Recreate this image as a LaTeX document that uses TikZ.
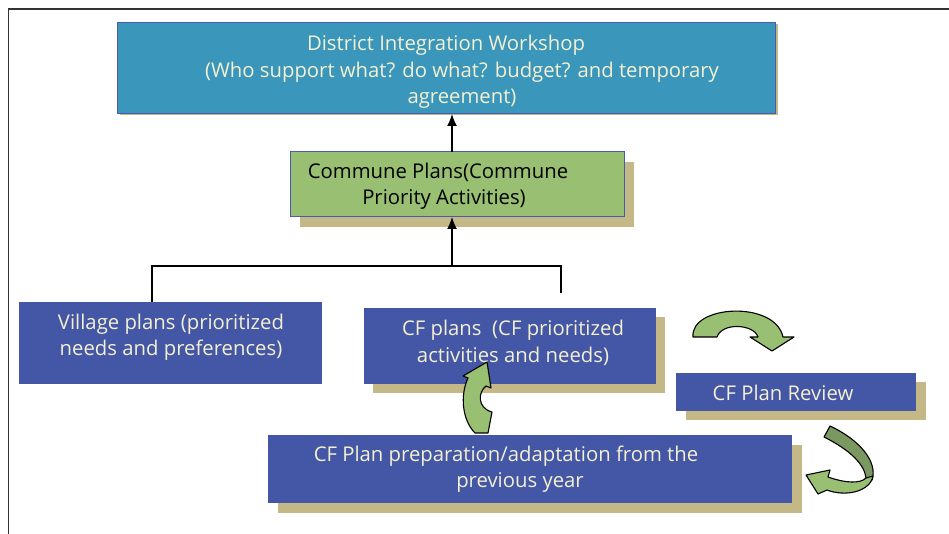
\documentclass[tikz,border=0pt]{standalone}
\usepackage{fontspec}
\setmainfont{Open Sans}
\usetikzlibrary{arrows.meta}

\definecolor{tealbox}{HTML}{3A96BB}
\definecolor{bluebox}{HTML}{4456A6}
\definecolor{edgeblue}{HTML}{4A5AAE}
\definecolor{tanshadow}{HTML}{C4B886}
\definecolor{leaf}{HTML}{98BF72}
\definecolor{darkleaf}{HTML}{7A9860}
\definecolor{cream}{HTML}{F4F0D2}

\tikzset{
  panel/.style={rectangle, anchor=north west, inner sep=0pt, outer sep=0pt},
  lbl/.style={align=center, inner sep=0pt, font=\fontsize{20.3}{26.5}\selectfont, text=cream},
  conn/.style={draw=black, line width=1.3pt},
  arr/.style={conn, -{Latex[length=12pt,width=10pt]}},
  blockarrow/.style={draw=black, line width=1.1pt, line join=round}
}

\begin{document}
\begin{tikzpicture}[x=1pt, y=-1pt]
\useasboundingbox (0,0) rectangle (949,534);
\fill[white] (0,0) rectangle (949,534);

% outer frame (left and top edges only)
\draw[line width=1.6pt, draw=black!80] (8.5,534) -- (8.5,9) -- (949,9);

% shadows behind the boxes
\fill[tanshadow] (120,24) rectangle (778,115);
\fill[tanshadow] (300,162) rectangle (634,227);
\fill[tanshadow] (373,317) rectangle (665,393);
\fill[tanshadow] (686,382) rectangle (926,420);
\fill[tanshadow] (278,445) rectangle (802,513);

% boxes
\node[panel, fill=tealbox, draw=edgeblue, line width=1pt, minimum width=658pt, minimum height=91pt] (dist) at (117,23) {};
\node[panel, fill=leaf, draw=edgeblue, line width=1pt, minimum width=334pt, minimum height=65pt] (comm) at (290,152) {};
\node[panel, fill=bluebox, minimum width=303pt, minimum height=82pt] (vil) at (19,302) {};
\node[panel, fill=bluebox, minimum width=292pt, minimum height=76pt] (cfp) at (364,308) {};
\node[panel, fill=bluebox, minimum width=240pt, minimum height=38pt] (rev) at (676,373) {};
\node[panel, fill=bluebox, minimum width=524pt, minimum height=68pt] (prep) at (268,435) {};

% labels
\node[lbl] (distT) at (446,72) {District Integration Workshop\\\hspace*{32pt}(Who support what? do what? budget? and temporary\\\hspace*{32pt}agreement)};
\node[lbl, text=black] (commT) at (438,186) {Commune Plans(Commune\\\hspace*{12pt}Priority Activities)};
\node[lbl] (vilT) at (171,337) {Village plans (prioritized\\needs and preferences)};
\node[lbl] (cfpT) at (513,343) {CF plans\ \ (CF prioritized\\activities and needs)};
\node[lbl] (revT) at (783,393) {CF Plan Review};
\node[lbl] (prepT) at (506,469) {CF Plan preparation/adaptation from the\\\hspace*{28pt}previous year};

% tree connectors
\coordinate (bus) at (452,266);
\coordinate (cfend) at (561,293);
\draw[conn] ([xshift=133pt]vil.north west) |- (bus) -| (cfend);
\draw[arr] (bus) -- (bus |- comm.south);
\draw[arr] (comm.north -| bus) -- (dist.south -| bus);

% curved block arrow towards the review
\filldraw[blockarrow, fill=leaf] (693,337) .. controls (690,305) and (775,300) .. (783,337)
  -- (794,337) -- (772,351) -- (750,337) -- (758,337)
  .. controls (754,324) and (722,322) .. (717,337) -- cycle;

% curved block arrow from the review back to the preparation box
\filldraw[blockarrow, fill=darkleaf] (824,437) -- (830,426) .. controls (860,440) and (878,462) .. (872,480)
  -- (866,480) .. controls (866,465) and (850,450) .. (824,437) -- cycle;
\filldraw[blockarrow, fill=leaf] (873,476) .. controls (870,492) and (845,497) .. (827,490)
  -- (818,494) -- (806,475) -- (830,470) -- (828,477)
  .. controls (845,483) and (860,484) .. (866,478) -- cycle;

% small curved arrow from the preparation box up to the CF plans
\filldraw[blockarrow, fill=leaf] (475,433) .. controls (462,420) and (460,395) .. (468,378)
  -- (463,376) -- (487,362) -- (491,388) -- (486,386)
  .. controls (478,392) and (477,408) .. (492,412) -- (488,433) -- cycle;
\end{tikzpicture}
\end{document}
